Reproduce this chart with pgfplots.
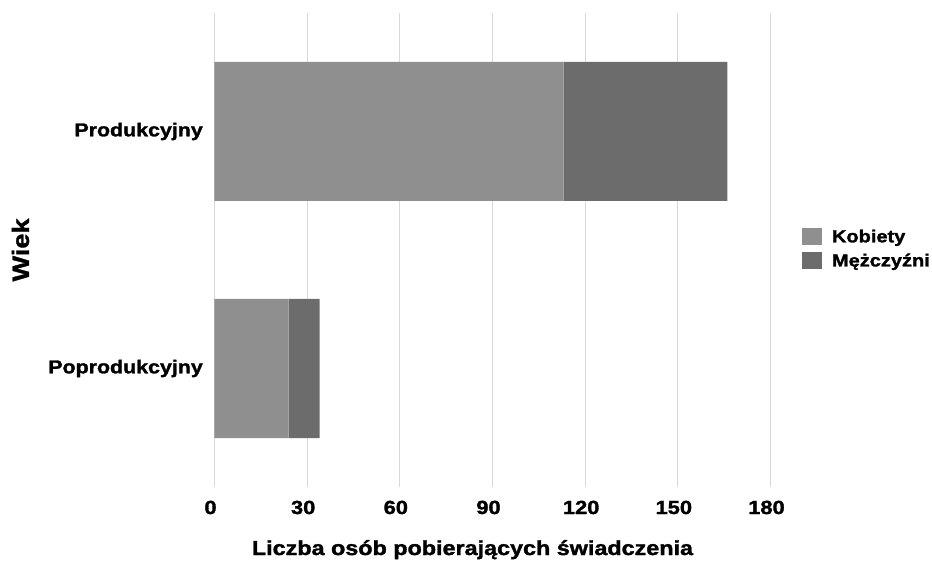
\documentclass[border=0pt]{standalone}
\usepackage{fontspec}
\setmainfont{Liberation Sans}[FakeStretch=1.15, BoldFeatures={FakeBold=1.6}]
\usepackage{pgfplots}
\pgfplotsset{compat=1.18}
\definecolor{kob}{HTML}{8F8F8F}
\definecolor{mez}{HTML}{6C6C6C}
\definecolor{gridc}{HTML}{D9D9D9}
\begin{document}
\begin{tikzpicture}
\useasboundingbox (-214.5pt,-75pt) rectangle (717.5pt,487pt);
\begin{axis}[
  at={(0,0)}, anchor=south west,
  scale only axis,
  width=556pt, height=474pt,
  xbar stacked,
  bar width=139pt,
  xmin=0, xmax=180,
  ymin=-0.5, ymax=1.5,
  xtick={0,30,...,180},
  ytick={0,1},
  yticklabels={Poprodukcyjny,Produkcyjny},
  /pgf/number format/assume math mode=true,
  axis line style={draw=none},
  major tick length=0pt,
  xmajorgrids,
  major grid style={draw=gridc, line width=0.9pt},
  x tick label style={font=\bfseries\fontsize{19}{19}\selectfont, anchor=base, inner sep=0pt, yshift=-27pt, xshift=-4pt},
  y tick label style={font=\bfseries\fontsize{18.6}{18.6}\selectfont, anchor=east, inner sep=0pt, xshift=-11.5pt},
  xlabel={Liczba osób pobierających świadczenia},
  xlabel style={font=\bfseries\fontsize{20.3}{20.3}\selectfont, at={(axis description cs:0.5,0)}, anchor=base, inner sep=0pt, yshift=-68pt, xshift=-20pt},
  ylabel={Wiek},
  ylabel style={font=\bfseries\fontsize{23.5}{23.5}\selectfont, at={(axis description cs:0,0.5)}, anchor=center, inner sep=0pt, yshift=194pt},
  legend style={at={(axis description cs:1.0566,0.5026)}, anchor=west, draw=none, fill=none, inner sep=0pt, outer sep=0pt,
    nodes={inner sep=0pt, font=\bfseries\fontsize{17.4}{17.4}\selectfont},
    row sep=7pt,
    /tikz/every odd column/.style={column sep=10pt}},
  legend cell align=left,
  legend image code/.code={\fill[#1] (0pt,-8.5pt) rectangle (20pt,8.5pt);},
]
\addplot[fill=kob, draw=none] coordinates {(24,0) (113,1)};
\addplot[fill=mez, draw=none] coordinates {(10,0) (53,1)};
\legend{Kobiety, Mężczyźni}
\end{axis}
\end{tikzpicture}
\end{document}
